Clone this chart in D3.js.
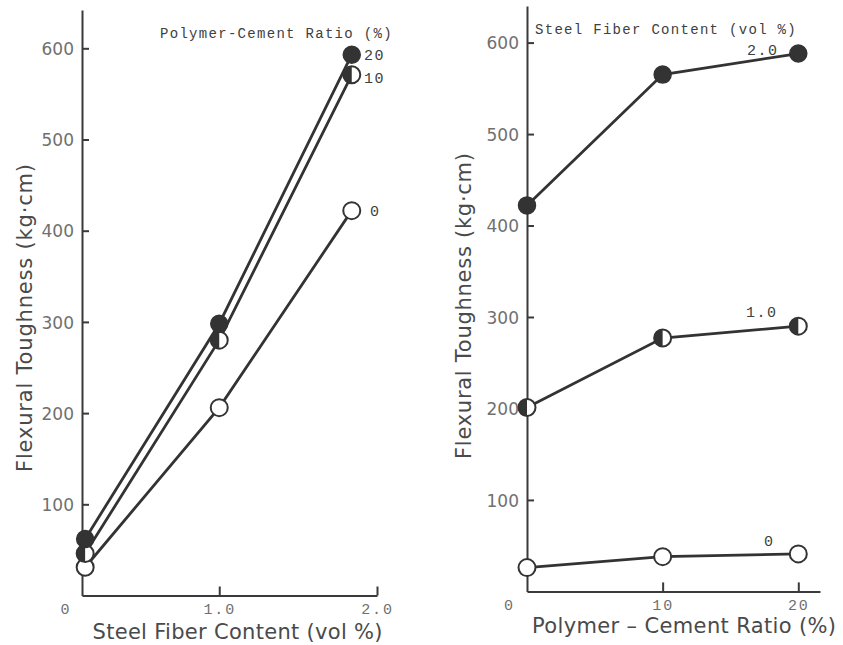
<!DOCTYPE html>
<html>
<head>
<meta charset="utf-8">
<script src="https://cdn.jsdelivr.net/npm/d3@7"></script>
<style>
  html, body { margin: 0; padding: 0; background: #fff; }
  svg { display: block; }
  .tick line, .domain { stroke: #3a3a3a; stroke-width: 2; }
  .ytick text { font-family: "DejaVu Sans", sans-serif; font-size: 17px; fill: #707070; }
  .xtick text { font-family: "Liberation Mono", monospace; font-size: 15px; letter-spacing: 1.8px; fill: #707070; }
  .mono { font-family: "Liberation Mono", monospace; fill: #404040; }
  .title { font-family: "DejaVu Sans", sans-serif; font-size: 21px; fill: #4a4a4a; }
</style>
</head>
<body>
<svg id="chart" width="843" height="645"></svg>
<script>
// Left panel: flexural toughness vs steel fiber content, one line per polymer-cement ratio
const fiberContent = [0.15, 1.0, 1.84];
const pcr20 = [62, 298, 593];
const pcr10 = [46, 280, 571];
const pcr0  = [31, 206, 422];
const fiberTicks = [0, 1.0, 2.0];
const fiberTickLabels = ["0", "1.0", "2.0"];

// Right panel: flexural toughness vs polymer-cement ratio, one line per steel fiber content
const pcRatio = [0, 10, 20];
const sf20 = [422, 565, 588];
const sf10 = [201, 277, 290];
const sf0  = [26, 38, 41];
const ratioTicks = [0, 10, 20];
const ratioTickLabels = ["0", "10", "20"];

const toughTicks = [100, 200, 300, 400, 500, 600];

const svg = d3.select("#chart");

function drawMarker(g, kind, r) {
  if (kind === "filled") {
    g.append("circle").attr("r", r).attr("fill", "#333").attr("stroke", "#333").attr("stroke-width", 1.5);
  } else if (kind === "half") {
    g.append("circle").attr("r", r).attr("fill", "#fff").attr("stroke", "#333").attr("stroke-width", 2);
    g.append("path")
      .attr("d", `M0,${-r}A${r},${r} 0 0 0 0,${r}Z`)
      .attr("fill", "#333");
  } else {
    g.append("circle").attr("r", r).attr("fill", "#fff").attr("stroke", "#333").attr("stroke-width", 2);
  }
}

function panel(opts) {
  const { x, y, xs, series, xTicks, xTickLabels, zeroShift, legend, labels } = opts;
  const [x0] = x.range();

  // y axis with inward ticks
  const ya = svg.append("g").attr("class", "ytick")
    .attr("transform", `translate(${x0},0)`)
    .call(d3.axisLeft(y).tickValues(toughTicks).tickSize(-7).tickSizeOuter(0).tickPadding(8).tickFormat(d3.format("d")));
  ya.selectAll("text").attr("dy", "0.36em");

  // x axis with inward ticks; the zero label sits at the corner without a tick
  const xa = svg.append("g").attr("class", "xtick")
    .attr("transform", `translate(0,${y(0)})`)
    .call(d3.axisBottom(x).tickValues(xTicks).tickSize(-9).tickSizeOuter(0).tickPadding(8)
      .tickFormat((d, i) => xTickLabels[i]));
  xa.selectAll(".tick").filter(d => d === 0).select("line").remove();
  xa.selectAll(".tick").filter(d => d === 0).select("text").attr("x", zeroShift);

  // lines
  const line = d3.line().x((d, i) => x(xs[i])).y(d => y(d));
  series.forEach(s => {
    svg.append("path").datum(s.values)
      .attr("d", line)
      .attr("fill", "none")
      .attr("stroke", "#333")
      .attr("stroke-width", 2.8);
  });
  // markers
  series.forEach(s => {
    s.values.forEach((v, i) => {
      const g = svg.append("g").attr("transform", `translate(${x(xs[i])},${y(v)})`);
      drawMarker(g, s.kind, 8.5);
    });
  });

  // legend heading
  svg.append("text").attr("class", "mono")
    .attr("x", legend.x).attr("y", legend.y)
    .attr("font-size", 14).attr("letter-spacing", 1.3)
    .text(legend.text);

  // series labels
  labels.forEach(l => {
    svg.append("text").attr("class", "mono")
      .attr("x", l.x).attr("y", l.y)
      .attr("font-size", 15).attr("letter-spacing", 1.5)
      .text(l.text);
  });
}

// Left panel
const xL = d3.scaleLinear().domain([0.13, 2.0]).range([82, 377]);
const yL = d3.scaleLinear().domain([0, 642]).range([595.5, 10]);
panel({
  x: xL, y: yL, xs: fiberContent,
  series: [
    { values: pcr0, kind: "open" },
    { values: pcr10, kind: "half" },
    { values: pcr20, kind: "filled" }
  ],
  xTicks: fiberTicks, xTickLabels: fiberTickLabels, zeroShift: 4,
  legend: { x: 160, y: 38, text: "Polymer-Cement Ratio (%)" },
  labels: [
    { x: 364, y: 60, text: "20" },
    { x: 364, y: 83, text: "10" },
    { x: 370, y: 216, text: "0" }
  ]
});

// Right panel
const xR = d3.scaleLinear().domain([0, 21.6]).range([527, 820]);
const yR = d3.scaleLinear().domain([0, 640]).range([591.4, 6]);
panel({
  x: xR, y: yR, xs: pcRatio,
  series: [
    { values: sf0, kind: "open" },
    { values: sf10, kind: "half" },
    { values: sf20, kind: "filled" }
  ],
  xTicks: ratioTicks, xTickLabels: ratioTickLabels, zeroShift: -18,
  legend: { x: 535, y: 34, text: "Steel Fiber Content (vol %)" },
  labels: [
    { x: 747, y: 55, text: "2.0" },
    { x: 746, y: 317, text: "1.0" },
    { x: 764, y: 546, text: "0" }
  ]
});

// Axis titles
function yTitle(cx, cy, len) {
  svg.append("text").attr("class", "title")
    .attr("transform", `translate(${cx},${cy}) rotate(-90)`)
    .attr("text-anchor", "middle").attr("dy", "0.35em")
    .attr("textLength", len).attr("lengthAdjust", "spacing")
    .text("Flexural Toughness (kg·cm)");
}
yTitle(25, 318, 308);
yTitle(464, 306, 306);

svg.append("text").attr("class", "title")
  .attr("x", 237.5).attr("y", 639).attr("text-anchor", "middle")
  .attr("textLength", 290).attr("lengthAdjust", "spacing")
  .text("Steel Fiber Content (vol %)");
svg.append("text").attr("class", "title")
  .attr("x", 684).attr("y", 633).attr("text-anchor", "middle")
  .attr("textLength", 304).attr("lengthAdjust", "spacing")
  .text("Polymer – Cement Ratio (%)");
</script>
</body>
</html>
